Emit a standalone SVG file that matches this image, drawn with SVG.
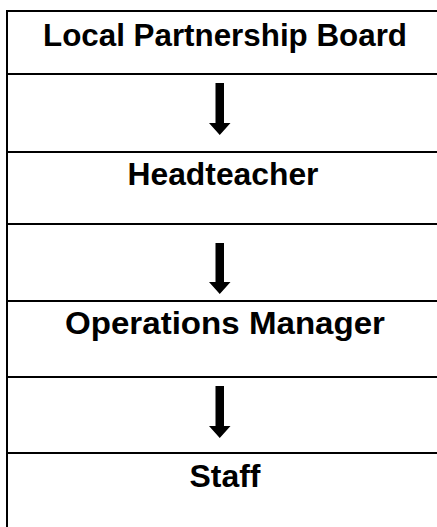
<svg xmlns="http://www.w3.org/2000/svg" width="437" height="527" viewBox="0 0 437 527">
<style>
.rule{stroke:#000;stroke-width:2;fill:none}
.lbl{font-family:"Liberation Sans",Arial,sans-serif;font-weight:bold;font-size:32px;fill:#000;text-anchor:middle}
.arr{fill:#000;stroke:none}
</style>
<rect width="437" height="527" fill="#fff"/>
<g id="table">
<line class="rule" x1="7" y1="10" x2="7" y2="527"/>
<line class="rule" x1="6" y1="11" x2="437" y2="11"/>
<line class="rule" x1="6" y1="74" x2="437" y2="74"/>
<line class="rule" x1="6" y1="152" x2="437" y2="152"/>
<line class="rule" x1="6" y1="224" x2="437" y2="224"/>
<line class="rule" x1="6" y1="301" x2="437" y2="301"/>
<line class="rule" x1="6" y1="377" x2="437" y2="377"/>
<line class="rule" x1="6" y1="453" x2="437" y2="453"/>
</g>
<g id="node-board"><text class="lbl" x="225" y="46" textLength="364" lengthAdjust="spacingAndGlyphs">Local Partnership Board</text></g>
<g id="node-headteacher"><text class="lbl" x="223" y="185" textLength="191" lengthAdjust="spacingAndGlyphs">Headteacher</text></g>
<g id="node-operations"><text class="lbl" x="225" y="334" textLength="320" lengthAdjust="spacingAndGlyphs">Operations Manager</text></g>
<g id="node-staff"><text class="lbl" x="225" y="487" textLength="71" lengthAdjust="spacingAndGlyphs">Staff</text></g>
<g id="connectors">
<path class="arr" d="M215.5,83 H224 V123 H230.5 L219.75,135 L209,123 H215.5 Z"/>
<path class="arr" d="M215.5,243 H224 V282 H230.5 L219.75,294 L209,282 H215.5 Z"/>
<path class="arr" d="M215.5,386 H224 V426 H230.5 L219.75,438 L209,426 H215.5 Z"/>
</g>
</svg>
